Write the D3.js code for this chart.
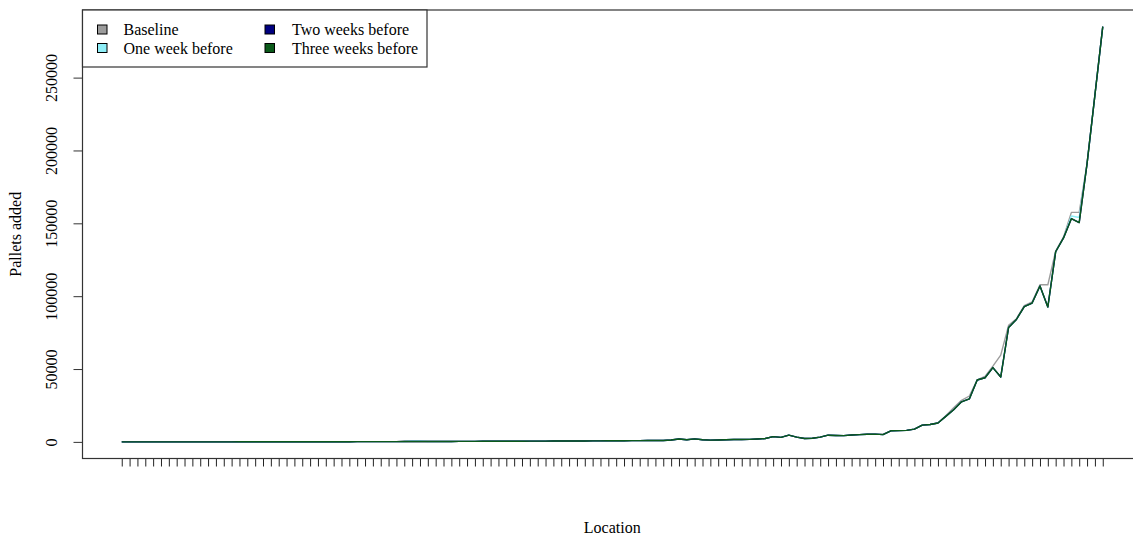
<!DOCTYPE html>
<html>
<head>
<meta charset="utf-8">
<script src="https://cdn.jsdelivr.net/npm/d3@7"></script>
<style>
  html, body { margin: 0; padding: 0; background: #fff; }
  svg { display: block; }
  text { font-family: "Liberation Serif", "Times New Roman", serif; fill: #000; }
</style>
</head>
<body>
<svg id="chart" width="1133" height="535"></svg>
<script>
// Pallets added per location, locations ordered by baseline volume
const threeWeeks = [
  0, 0, 0, 0, 0, 10, 10, 10, 20, 20,
  20, 30, 30, 40, 40, 50, 50, 60, 60, 70,
  70, 80, 90, 90, 100, 110, 120, 120, 130, 140,
  150, 160, 170, 180, 190, 210, 220, 240, 250, 260,
  280, 300, 310, 330, 350, 370, 390, 400, 420, 440,
  460, 480, 500, 520, 540, 560, 590, 610, 640, 660,
  690, 720, 750, 780, 810, 850, 880, 920, 960, 1000,
  1300, 2000, 1500, 2100, 1500, 1200, 1300, 1500, 1600, 1600,
  1700, 2000, 2300, 3600, 3100, 4600, 3300, 2300, 2500, 3300,
  4600, 4400, 4300, 4700, 5000, 5200, 5300, 5000, 7600, 7700,
  7900, 8800, 11500, 11900, 13000, 17500, 22000, 27500, 29500, 42500,
  44000, 51000, 44500, 78500, 84000, 92800, 95300, 107000, 92500, 130500,
  140000, 153200, 150500, 191000, 238000, 285000
];
const twoWeeks = threeWeeks.slice();
const oneWeek = threeWeeks.slice();
oneWeek[37] = 600; oneWeek[38] = 700;
oneWeek[121] = 155000; oneWeek[122] = 154000;
const baseline = threeWeeks.slice();
const baselineEdits = [
  [97, 5300], [98, 5300],
  [106, 18000], [107, 23500], [108, 28500], [109, 31500], [110, 42500],
  [111, 45000], [112, 52000], [113, 59500], [114, 80000], [115, 84500],
  [116, 93500], [117, 96000], [118, 107800], [119, 107800], [120, 131000],
  [121, 140500], [122, 157500], [123, 157500]
];
baselineEdits.forEach(([i, v]) => { baseline[i - 1] = v; });

const seriesNames = ["Baseline", "One week before", "Two weeks before", "Three weeks before"];
const seriesColors = ["#9c9c9c", "#8eeef7", "#000080", "#0b5a1a"];
const seriesValues = [baseline, oneWeek, twoWeeks, threeWeeks];
const yTicks = [0, 50000, 100000, 150000, 200000, 250000];

const svg = d3.select("#chart");
const plotLeft = 82.5, plotRight = 1142, plotTop = 10, plotBottom = 458.5;
const n = threeWeeks.length;
const pad = 0.04 * (n - 1);
const x = d3.scaleLinear().domain([1 - pad, n + pad]).range([plotLeft, plotRight]);
const yMax = d3.max(seriesValues, s => d3.max(s));
const y = d3.scaleLinear().domain([-0.04 * yMax, 1.04 * yMax]).range([plotBottom, plotTop]);

// series lines
const line = d3.line().x((d, i) => x(i + 1)).y(d => y(d));
seriesValues.forEach((vals, k) => {
  svg.append("path")
    .datum(vals)
    .attr("d", line)
    .attr("fill", "none")
    .attr("stroke", seriesColors[k])
    .attr("stroke-width", 1.4)
    .attr("stroke-linejoin", "round");
});

// x axis: one unlabeled tick per location
const xAxis = d3.axisBottom(x)
  .tickValues(d3.range(1, n + 1))
  .tickFormat("")
  .tickSize(8)
  .tickSizeOuter(0);
const gx = svg.append("g").attr("transform", `translate(0,${plotBottom})`).call(xAxis);
gx.select(".domain").remove();
gx.selectAll(".tick line").attr("stroke", "#222").attr("stroke-width", 1);

// y axis with rotated labels
const yAxis = d3.axisLeft(y).tickValues(yTicks).tickFormat(d3.format("d")).tickSize(9).tickSizeOuter(0);
const gy = svg.append("g").attr("transform", `translate(${plotLeft},0)`).call(yAxis);
gy.select(".domain").remove();
gy.selectAll(".tick line").attr("stroke", "#333");
gy.selectAll(".tick text")
  .attr("x", null).attr("dy", null)
  .attr("transform", "translate(-25.5,0) rotate(-90)")
  .attr("text-anchor", "middle")
  .style("font-size", "16px")
  .style("font-family", "'Liberation Serif', 'Times New Roman', serif");

// plot frame
svg.append("rect")
  .attr("x", plotLeft).attr("y", plotTop)
  .attr("width", plotRight - plotLeft).attr("height", plotBottom - plotTop)
  .attr("fill", "none").attr("stroke", "#333").attr("stroke-width", 1.2);

// axis titles
svg.append("text")
  .attr("transform", `translate(21,${(plotTop + plotBottom) / 2}) rotate(-90)`)
  .attr("text-anchor", "middle")
  .style("font-size", "16px")
  .text("Pallets added");
svg.append("text")
  .attr("x", (plotLeft + plotRight) / 2).attr("y", 533)
  .attr("text-anchor", "middle")
  .style("font-size", "16px")
  .text("Location");

// legend
const lg = svg.append("g");
lg.append("rect")
  .attr("x", plotLeft).attr("y", plotTop).attr("width", 344.5).attr("height", 57)
  .attr("fill", "#fff").attr("stroke", "#333").attr("stroke-width", 1.2);
const legendPos = [
  { sx: 97.5, tx: 123.5, row: 0 },
  { sx: 97.5, tx: 123.5, row: 1 },
  { sx: 265, tx: 292, row: 0 },
  { sx: 265, tx: 292, row: 1 }
];
seriesNames.forEach((name, k) => {
  const p = legendPos[k];
  const cy = p.row === 0 ? 29.5 : 48;
  lg.append("rect")
    .attr("x", p.sx).attr("y", cy - 4.5).attr("width", 9.5).attr("height", 9)
    .attr("fill", seriesColors[k]).attr("stroke", "#000").attr("stroke-width", 1);
  lg.append("text")
    .attr("x", p.tx).attr("y", cy + 5.5)
    .style("font-size", "16px")
    .text(name);
});
</script>
</body>
</html>
